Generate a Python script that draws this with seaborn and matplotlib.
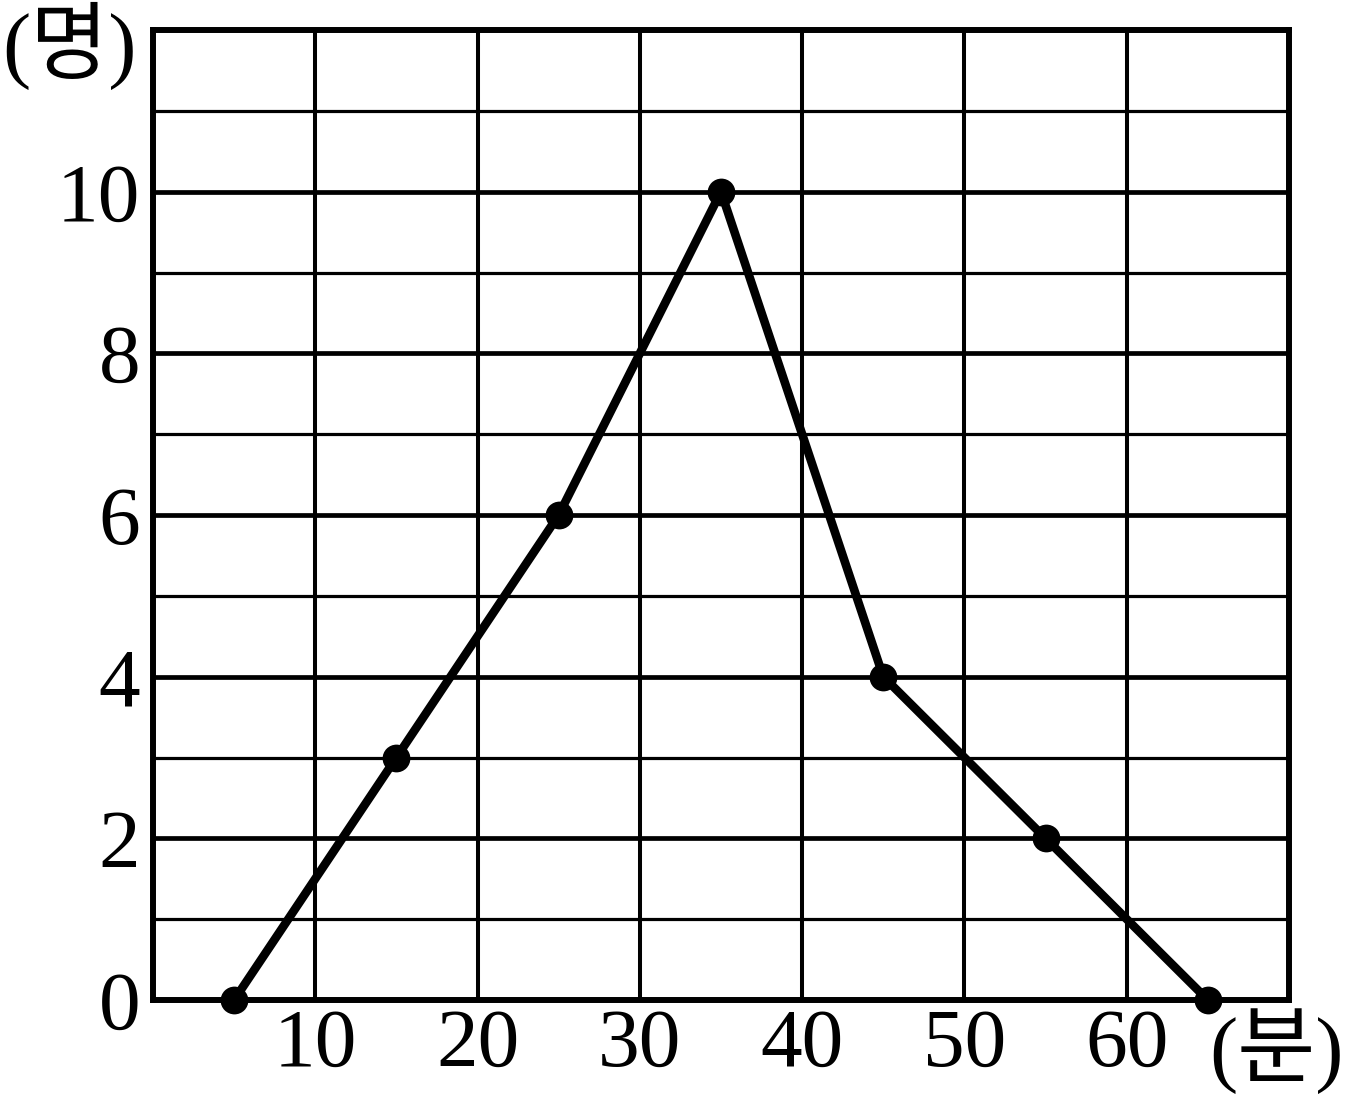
import pandas as pd
import seaborn as sns
import matplotlib.pyplot as plt

# data
minutes = [5, 15, 25, 35, 45, 55, 65]
people = [0, 3, 6, 10, 4, 2, 0]
x_ticks = [10, 20, 30, 40, 50, 60]
y_ticks = [0, 2, 4, 6, 8, 10]
y_minor = [1, 3, 5, 7, 9, 11]

df = pd.DataFrame({"minutes": minutes, "people": people})

sns.set_style("white")
plt.rcParams["font.family"] = ["Liberation Serif", "Noto Sans CJK KR"]

fig = plt.figure(figsize=(13.61, 11.04), dpi=100)
ax = fig.add_axes([0.1124, 0.0942, 0.8347, 0.8786])

ax.set_xlim(0, 70)
ax.set_ylim(0, 12)

# grid
for x in x_ticks:
    ax.axvline(x, color="black", lw=2.9, zorder=1)
for y in y_ticks[1:]:
    ax.axhline(y, color="black", lw=3.4, zorder=1)
for y in y_minor:
    ax.axhline(y, color="black", lw=2.3, zorder=1)

sns.lineplot(data=df, x="minutes", y="people", ax=ax, color="black",
             lw=6.2, marker="o", markersize=20, markeredgewidth=0,
             clip_on=False, zorder=5)

for s in ax.spines.values():
    s.set_linewidth(4.3)
    s.set_color("black")

ax.set_xticks(x_ticks)
ax.set_yticks(y_ticks)
ax.tick_params(axis="both", length=0, labelsize=60, colors="black")
ax.tick_params(axis="x", pad=6)
ax.tick_params(axis="y", pad=9)
ax.set_xlabel("")
ax.set_ylabel("")

fig.text(0.051, 0.958, "(명)", fontsize=61, ha="center", va="center", color="black")
fig.text(0.938, 0.048, "(분)", fontsize=61, ha="center", va="center", color="black")

fig.savefig("out.png", dpi=100)
